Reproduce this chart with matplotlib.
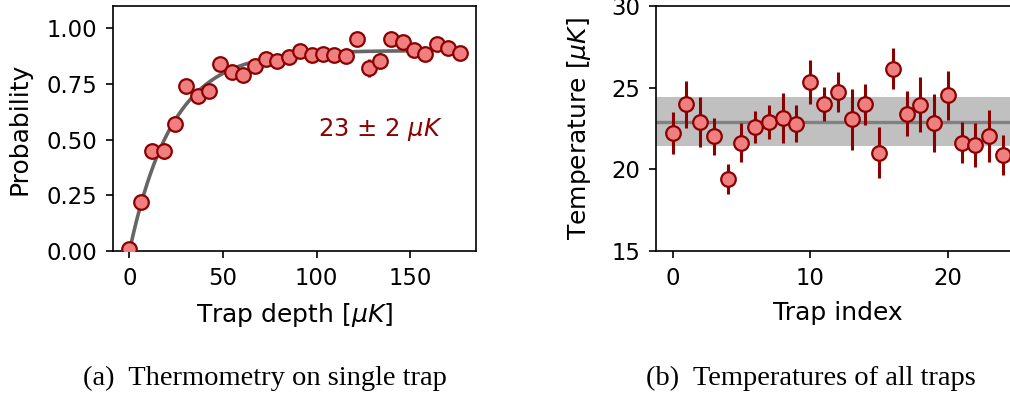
import numpy as np
import matplotlib
matplotlib.use("Agg")
import matplotlib.pyplot as plt

# ---- (a) survival probability vs. trap depth ----
depth = [0.0, 6.1, 12.2, 18.2, 24.3, 30.4, 36.5, 42.6, 48.6, 54.7,
         60.8, 66.9, 73.0, 79.0, 85.1, 91.2, 97.3, 103.4, 109.4, 115.5,
         121.6, 127.7, 133.8, 139.8, 145.9, 152.0, 158.1, 164.2, 170.2, 176.3]
prob = [0.01, 0.22, 0.447, 0.447, 0.571, 0.743, 0.695, 0.719, 0.838, 0.803,
        0.788, 0.830, 0.860, 0.851, 0.872, 0.898, 0.878, 0.886, 0.878, 0.875,
        0.950, 0.823, 0.853, 0.950, 0.938, 0.901, 0.883, 0.928, 0.910, 0.887]
prob_err = [0.01, 0.02, 0.02, 0.035, 0.02, 0.02, 0.02, 0.02, 0.02, 0.02,
            0.02, 0.02, 0.02, 0.02, 0.02, 0.02, 0.02, 0.02, 0.02, 0.02,
            0.02, 0.04, 0.037, 0.02, 0.02, 0.02, 0.02, 0.02, 0.026, 0.02]
fit_amp = 0.9          # saturation probability
fit_temp = 23.0        # fitted temperature [uK]
fit_temp_err = 2.0
fit_depth_max = 150.0

# ---- (b) fitted temperature of every trap ----
trap_index = list(range(25))
temps = [22.24, 23.98, 22.90, 22.02, 19.41, 21.63, 22.59, 22.90, 23.16, 22.80,
         25.35, 24.00, 24.73, 23.06, 23.98, 21.02, 26.16, 23.41, 23.96, 22.82,
         24.53, 21.63, 21.49, 22.04, 20.90]
temps_err = [1.29, 1.42, 1.53, 1.13, 0.91, 1.20, 1.00, 1.02, 1.53, 1.14,
             1.35, 1.03, 1.22, 1.88, 1.27, 1.58, 1.24, 1.38, 1.69, 1.77,
             1.51, 1.26, 1.32, 1.60, 1.22]
temp_mean = 22.9
temp_spread = 1.5

FACE = "#F08080"
EDGE = "#8B0000"

plt.rcParams.update({
    "font.family": "DejaVu Sans",
    "mathtext.fontset": "dejavusans",
    "font.size": 16.4,
    "axes.linewidth": 1.2,
    "xtick.major.size": 5.0,
    "ytick.major.size": 5.0,
    "xtick.major.width": 1.2,
    "ytick.major.width": 1.2,
    "xtick.major.pad": 6.5,
    "ytick.major.pad": 6.5,
    "xtick.labelsize": 16.4,
    "ytick.labelsize": 16.4,
    "axes.labelsize": 18,
})

W, H = 1010, 400
fig = plt.figure(figsize=(W / 100, H / 100), dpi=100)

ax1 = fig.add_axes([113 / W, 149 / H, 363 / W, 245 / H])
ax2 = fig.add_axes([656 / W, 149 / H, 363.5 / W, 245 / H])

marker_style = dict(fmt="o", ms=10.5, mfc=FACE, mec=EDGE, mew=1.6,
                    ecolor=EDGE, elinewidth=2.2, capsize=0, zorder=3)

# (a)
u = np.linspace(0, fit_depth_max, 400)
ax1.plot(u, fit_amp * (1 - np.exp(-u / fit_temp)), color="#666666", lw=2.6, zorder=2)
ax1.errorbar(depth, prob, yerr=prob_err, **marker_style)
ax1.set_xlim(-8.8, 185.1)
ax1.set_ylim(0, 1.1)
ax1.set_xticks([0, 50, 100, 150])
ax1.set_yticks([0.0, 0.25, 0.5, 0.75, 1.0])
ax1.set_yticklabels(["0.00", "0.25", "0.50", "0.75", "1.00"])
ax1.set_xlabel(r"Trap depth [$\mu K$]")
ax1.set_ylabel("Probability")
ax1.xaxis.set_label_coords(0.5, -0.204)
ax1.yaxis.set_label_coords(-0.224, 0.5)
ax1.text(100.5, 0.545, f"{fit_temp:.0f} ± {fit_temp_err:.0f} " + r"$\mu K$",
         color=EDGE, fontsize=17.5, ha="left", va="center")

# (b)
ax2.axhspan(temp_mean - temp_spread, temp_mean + temp_spread,
            color="#C0C0C0", lw=0, zorder=1)
ax2.axhline(temp_mean, color="#808080", lw=2.4, zorder=2)
ax2.errorbar(trap_index, temps, yerr=temps_err, **marker_style)
ax2.set_xlim(-1.2, 25.2)
ax2.set_ylim(15, 30)
ax2.set_xticks([0, 10, 20])
ax2.set_yticks([15, 20, 25, 30])
ax2.set_xlabel("Trap index")
ax2.set_ylabel(r"Temperature [$\mu K$]")
ax2.xaxis.set_label_coords(0.5, -0.204)
ax2.yaxis.set_label_coords(-0.1725, 0.5)

# sub-figure captions
cap_kw = dict(family="Liberation Serif", fontsize=20.5, ha="center", va="baseline")
fig.text(264.5 / W, 1 - 385 / H, "(a)  Thermometry on single trap", **cap_kw)
fig.text(810.5 / W, 1 - 385 / H, "(b)  Temperatures of all traps", **cap_kw)

fig.savefig("out.png", dpi=100)
